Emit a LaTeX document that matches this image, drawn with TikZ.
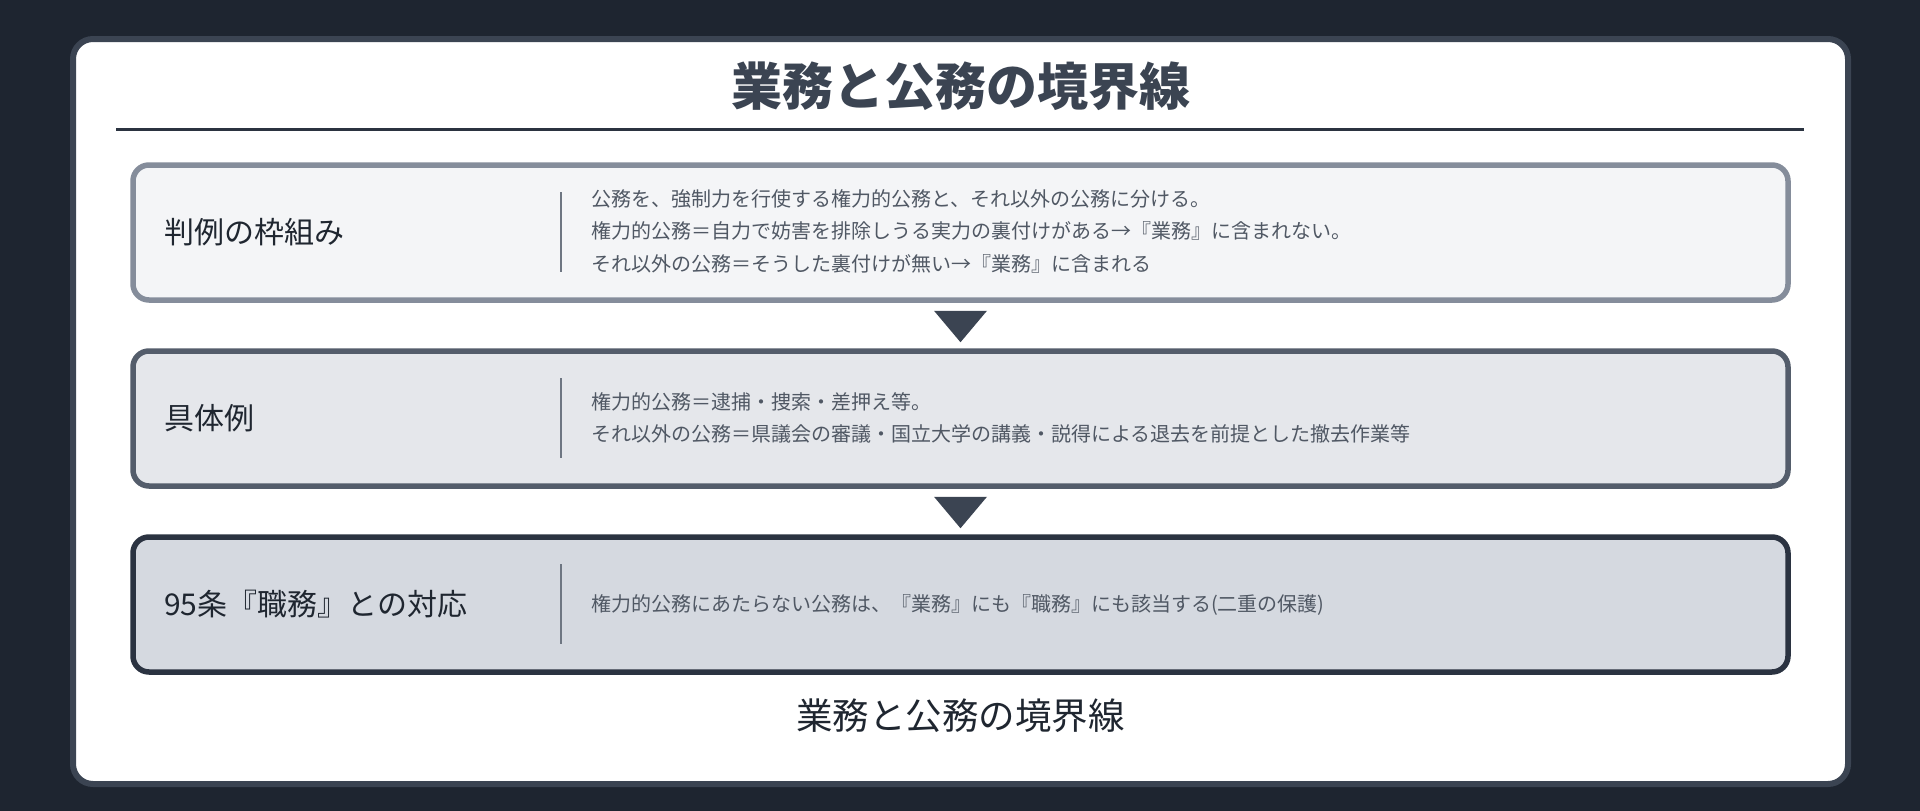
\documentclass[tikz,border=0pt]{standalone}
\usepackage{fontspec}
\setmainfont{Noto Sans CJK JP}
\usetikzlibrary{calc}
\definecolor{pagebg}{RGB}{30,37,48}
\definecolor{cardline}{RGB}{59,68,82}
\definecolor{titlec}{RGB}{59,68,82}
\definecolor{rulec}{RGB}{43,51,64}
\definecolor{fillA}{RGB}{244,245,247}
\definecolor{lineA}{RGB}{133,141,155}
\definecolor{fillB}{RGB}{229,231,235}
\definecolor{lineB}{RGB}{84,93,107}
\definecolor{fillC}{RGB}{213,217,224}
\definecolor{lineC}{RGB}{43,51,65}
\definecolor{lblc}{RGB}{31,38,48}
\definecolor{descc}{RGB}{80,88,100}
\definecolor{divc}{RGB}{110,118,130}
\definecolor{tric}{RGB}{59,68,82}
\tikzset{
  stagebox/.style={rounded corners=16pt, line width=5.5pt, inner sep=0pt,
    minimum width=1655pt, minimum height=135pt},
  lbl/.style={anchor=west, inner sep=0pt, text=lblc, font=\fontsize{30}{34}\selectfont},
  desc/.style={anchor=west, inner sep=0pt, text=descc, align=left, font=\fontsize{20}{32.5}\selectfont},
  divline/.style={draw=divc, line width=2.5pt},
  tri/.style={fill=tric},
}
\begin{document}
\begin{tikzpicture}[x=1pt,y=-1pt]
\useasboundingbox (0,0) rectangle (1920,811);
\fill[pagebg] (0,0) rectangle (1920,811);
\draw[cardline, line width=6pt, fill=white, rounded corners=20pt] (73,39) rectangle (1848,784);

\node[text=titlec, font=\fontsize{51}{58}\selectfont\bfseries] (title) at (960.5,86) {業務と公務の境界線};
\coordinate (rl) at (116,129);
\coordinate (rr) at (1804,129);
\draw[rulec, line width=3pt] (rl) -- (rr);

\node[stagebox, draw=lineA, fill=fillA] (b1) at (960.5,232.5) {};
\node[stagebox, draw=lineB, fill=fillB] (b2) at (960.5,418.5) {};
\node[stagebox, draw=lineC, fill=fillC] (b3) at (960.5,604.5) {};

\node[lbl] (l1) at (164,232.5) {判例の枠組み};
\node[lbl] (l2) at (164,418.5) {具体例};
\node[lbl] (l3) at (164,604.5) {95条『職務』との対応};

\coordinate (d1t) at (561,192); \coordinate (d1b) at (561,272);
\coordinate (d2t) at (561,378); \coordinate (d2b) at (561,458);
\coordinate (d3t) at (561,564); \coordinate (d3b) at (561,644);
\draw[divline] (d1t) -- (d1b);
\draw[divline] (d2t) -- (d2b);
\draw[divline] (d3t) -- (d3b);

\node[desc] (t1) at (591,231) {公務を、強制力を行使する権力的公務と、それ以外の公務に分ける。\\権力的公務＝自力で妨害を排除しうる実力の裏付けがある→『業務』に含まれない。\\それ以外の公務＝そうした裏付けが無い→『業務』に含まれる};
\node[desc] (t2) at (591,418) {権力的公務＝逮捕・捜索・差押え等。\\それ以外の公務＝県議会の審議・国立大学の講義・説得による退去を前提とした撤去作業等};
\node[desc] (t3) at (591,604.5) {権力的公務にあたらない公務は、『業務』にも『職務』にも該当する(二重の保護)};

\fill[tri] ($(b1.south)+(-26.5,8)$) -- ($(b1.south)+(26.5,8)$) -- ($(b2.north)+(0,-6)$) -- cycle;
\fill[tri] ($(b2.south)+(-26.5,8)$) -- ($(b2.south)+(26.5,8)$) -- ($(b3.north)+(0,-6)$) -- cycle;

\node[text=lblc, font=\fontsize{36.5}{42}\selectfont] (cap) at (960.5,716) {業務と公務の境界線};
\end{tikzpicture}
\end{document}
